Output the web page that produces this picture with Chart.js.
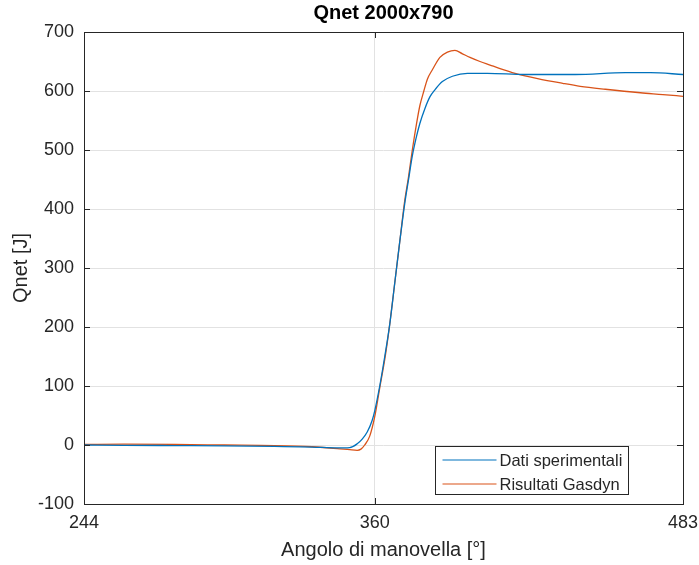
<!DOCTYPE html>
<html>
<head>
<meta charset="utf-8">
<script src="https://cdn.jsdelivr.net/npm/chart.js@4/dist/chart.umd.min.js"></script>
<style>
  body { margin: 0; background: #fff; }
  #wrap { width: 699px; height: 565px; }
</style>
</head>
<body>
<div id="wrap"><canvas id="qnet" width="699" height="565"></canvas></div>
<script>
// dati
const datiAngolo = [244, 260, 280, 300, 320, 335, 345, 350, 353, 355, 357, 359, 360, 362, 364, 366, 368, 370, 372, 373.5, 375, 376.5, 378, 380, 382, 384, 387, 391, 397, 405, 420, 440, 460, 470, 483];
const datiQnet = [0, -0.5, -1, -1.5, -2.5, -3.5, -5, -4.5, 2, 10, 22, 42, 58, 100, 150, 205, 275, 345, 410, 450, 490, 520, 545, 570, 590, 602, 616, 625, 630, 630, 628, 628, 631, 631, 628];

const gasdynAngolo = [244, 260, 280, 300, 320, 335, 345, 350, 353, 354.5, 356, 358, 360, 362, 364, 366, 368, 370, 372, 373.5, 375, 376.7, 378, 379.6, 381, 383, 386, 389, 392, 395, 398, 402, 406, 410, 416, 425, 435, 442, 452, 466, 475, 483];
const gasdynQnet = [1, 1.5, 1, 0, -1, -3, -6, -8, -9, -7, 0, 15, 48, 97, 145, 205, 275, 345, 415, 455, 500, 545, 575, 600, 620, 636, 657, 666, 669, 663, 657, 650, 644, 638, 630, 621, 613, 608, 603, 597, 594, 591];

const xTicks = [244, 360, 483];
const yMin = -100, yMax = 700, yStep = 100;

const seriesNames = ["Dati sperimentali", "Risultati Gasdyn"];
const seriesColors = ["#0072BD", "#D95319"];

const FONT = "'Liberation Sans', Arial, Helvetica, sans-serif";
const TXT = "#262626";

const toPoints = (xs, ys) => xs.map((x, i) => ({ x: x, y: ys[i] }));

// box + tacche verso l'interno come in matlab
const boxPlugin = {
  id: "box",
  afterDatasetsDraw(chart) {
    const { ctx, chartArea: a, scales } = chart;
    ctx.save();
    ctx.strokeStyle = TXT;
    ctx.lineWidth = 1;
    ctx.strokeRect(Math.round(a.left) + 0.5, Math.round(a.top) + 0.5, Math.round(a.right - a.left), Math.round(a.bottom - a.top));
    const tl = 6;
    ctx.beginPath();
    for (let v = yMin; v <= yMax; v += yStep) {
      const y = Math.round(scales.y.getPixelForValue(v)) + 0.5;
      ctx.moveTo(a.left, y); ctx.lineTo(a.left + tl, y);
      ctx.moveTo(a.right, y); ctx.lineTo(a.right - tl, y);
    }
    xTicks.forEach(v => {
      const x = Math.round(scales.x.getPixelForValue(v)) + 0.5;
      ctx.moveTo(x, a.bottom); ctx.lineTo(x, a.bottom - tl);
      ctx.moveTo(x, a.top); ctx.lineTo(x, a.top + tl);
    });
    ctx.stroke();
    ctx.restore();
  }
};

// legenda dentro l'area, in basso a destra
const legendPlugin = {
  id: "boxLegend",
  afterDraw(chart) {
    const { ctx, chartArea: a } = chart;
    const w = 193, h = 48;
    const left = Math.round(a.right - 55 - w) + 0.5;
    const top = Math.round(a.bottom - 10 - h) + 0.5;
    ctx.save();
    ctx.fillStyle = "#fff";
    ctx.fillRect(left, top, w, h);
    ctx.strokeStyle = TXT;
    ctx.lineWidth = 1;
    ctx.strokeRect(left, top, w, h);
    ctx.font = "16.5px " + FONT;
    ctx.textBaseline = "middle";
    chart.data.datasets.forEach((ds, i) => {
      const y = Math.round(top + 13 + i * 24);
      ctx.strokeStyle = ds.borderColor;
      ctx.lineWidth = 1.2;
      ctx.beginPath();
      ctx.moveTo(left + 7, y); ctx.lineTo(left + 61, y);
      ctx.stroke();
      ctx.fillStyle = TXT;
      ctx.fillText(ds.label, left + 64, y + 1);
    });
    ctx.restore();
  }
};

new Chart(document.getElementById("qnet"), {
  type: "line",
  data: {
    datasets: [
      { label: seriesNames[0], data: toPoints(datiAngolo, datiQnet), borderColor: seriesColors[0] },
      { label: seriesNames[1], data: toPoints(gasdynAngolo, gasdynQnet), borderColor: seriesColors[1] }
    ]
  },
  options: {
    responsive: false,
    animation: false,
    devicePixelRatio: 1,
    layout: { padding: { left: 0, right: 16, top: 0, bottom: 0 } },
    elements: {
      line: { borderWidth: 1.3, cubicInterpolationMode: "monotone", fill: false },
      point: { radius: 0 }
    },
    plugins: {
      legend: { display: false },
      tooltip: { enabled: false },
      title: {
        display: true,
        text: "Qnet 2000x790",
        fullSize: false,
        color: "#000",
        font: { family: FONT, size: 20, weight: "bold", lineHeight: 1.2 },
        padding: { top: 1, bottom: 7 }
      }
    },
    scales: {
      x: {
        type: "linear",
        min: 244,
        max: 483,
        afterBuildTicks: (s) => { s.ticks = xTicks.map(v => ({ value: v })); },
        afterFit: (s) => { s.height = 61; s.paddingLeft = 0; s.paddingRight = 0; },
        ticks: { color: TXT, font: { family: FONT, size: 18 }, padding: 8, maxRotation: 0, autoSkip: false },
        grid: { color: "#e2e2e2", drawTicks: false },
        border: { display: false },
        title: { display: true, text: "Angolo di manovella [°]", color: TXT, font: { family: FONT, size: 20 }, padding: { top: 0, bottom: 3 } }
      },
      y: {
        min: yMin,
        max: yMax,
        ticks: { stepSize: yStep, color: TXT, font: { family: FONT, size: 18 }, padding: 10 },
        afterFit: (s) => { s.width = 84; },
        grid: { color: "#e2e2e2", drawTicks: false },
        border: { display: false },
        title: { display: true, text: "Qnet [J]", color: TXT, font: { family: FONT, size: 20 }, padding: { top: 9, bottom: 0 } }
      }
    }
  },
  plugins: [boxPlugin, legendPlugin]
});
</script>
</body>
</html>
